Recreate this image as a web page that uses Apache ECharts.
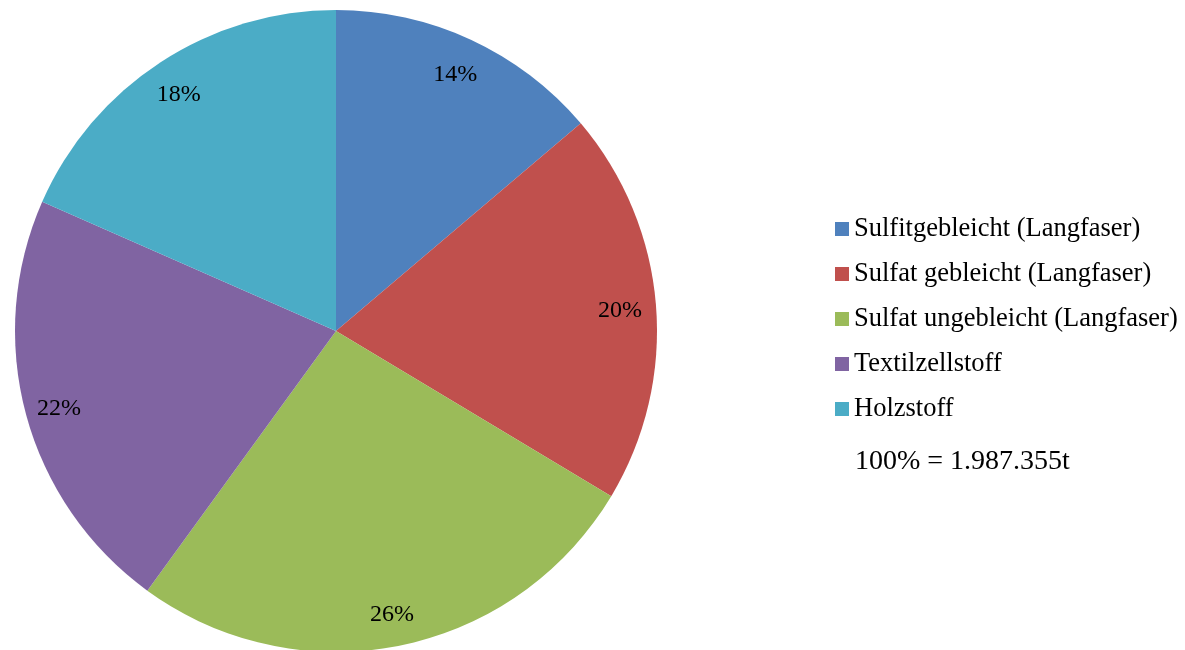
<!DOCTYPE html>
<html>
<head>
<meta charset="utf-8">
<script src="https://cdn.jsdelivr.net/npm/echarts@6/dist/echarts.min.js"></script>
<style>
    html, body { margin: 0; padding: 0; background: #fff; }
    #chart { width: 1185px; height: 650px; }
</style>
</head>
<body>
<div id="chart"></div>
<script>
// Anteile in Prozent (100% = 1.987.355t)
const categories = [
    'Sulfitgebleicht (Langfaser)',
    'Sulfat gebleicht (Langfaser)',
    'Sulfat ungebleicht (Langfaser)',
    'Textilzellstoff',
    'Holzstoff'
];
const shares = [13.8, 19.8, 26.4, 21.6, 18.4];
const colors = ['#4F81BD', '#C0504D', '#9BBB59', '#8064A2', '#4BACC6'];
const totalNote = '100% = 1.987.355t';

const FONT = '"Liberation Serif", "Times New Roman", serif';

function buildData() {
    return categories.map((name, i) => ({ name: name, value: shares[i] }));
}

let chart = echarts.init(document.getElementById('chart'));
chart.setOption({
    animation: false,
    color: colors,
    legend: {
        orient: 'vertical',
        left: 835,
        top: 214,
        padding: 0,
        itemWidth: 14,
        itemHeight: 14,
        itemGap: 15,
        icon: 'rect',
        textStyle: {
            fontFamily: FONT,
            fontSize: 26.5,
            lineHeight: 30,
            color: '#000'
        },
        data: categories
    },
    graphic: [
        {
            type: 'text',
            left: 855,
            top: 448,
            style: {
                text: totalNote,
                font: '28px ' + FONT,
                fill: '#000'
            }
        }
    ],
    series: [
        {
            name: 'Anteil',
            type: 'pie',
            center: [336, 331],
            radius: [0, 321],
            startAngle: 90,
            clockwise: true,
            label: { show: false },
            labelLine: { show: false },
            data: buildData()
        },
        {
            // nur für die Beschriftung (weiter außen platziert)
            name: 'Beschriftung',
            type: 'pie',
            silent: true,
            center: [336, 331],
            radius: [245, 321],
            startAngle: 90,
            clockwise: true,
            percentPrecision: 0,
            itemStyle: { color: 'transparent' },
            label: {
                show: true,
                position: 'inside',
                formatter: '{d}%',
                fontFamily: FONT,
                fontSize: 24,
                color: '#000',
                offset: [-1, 3]
            },
            labelLine: { show: false },
            data: buildData()
        }
    ]
});
</script>
</body>
</html>
